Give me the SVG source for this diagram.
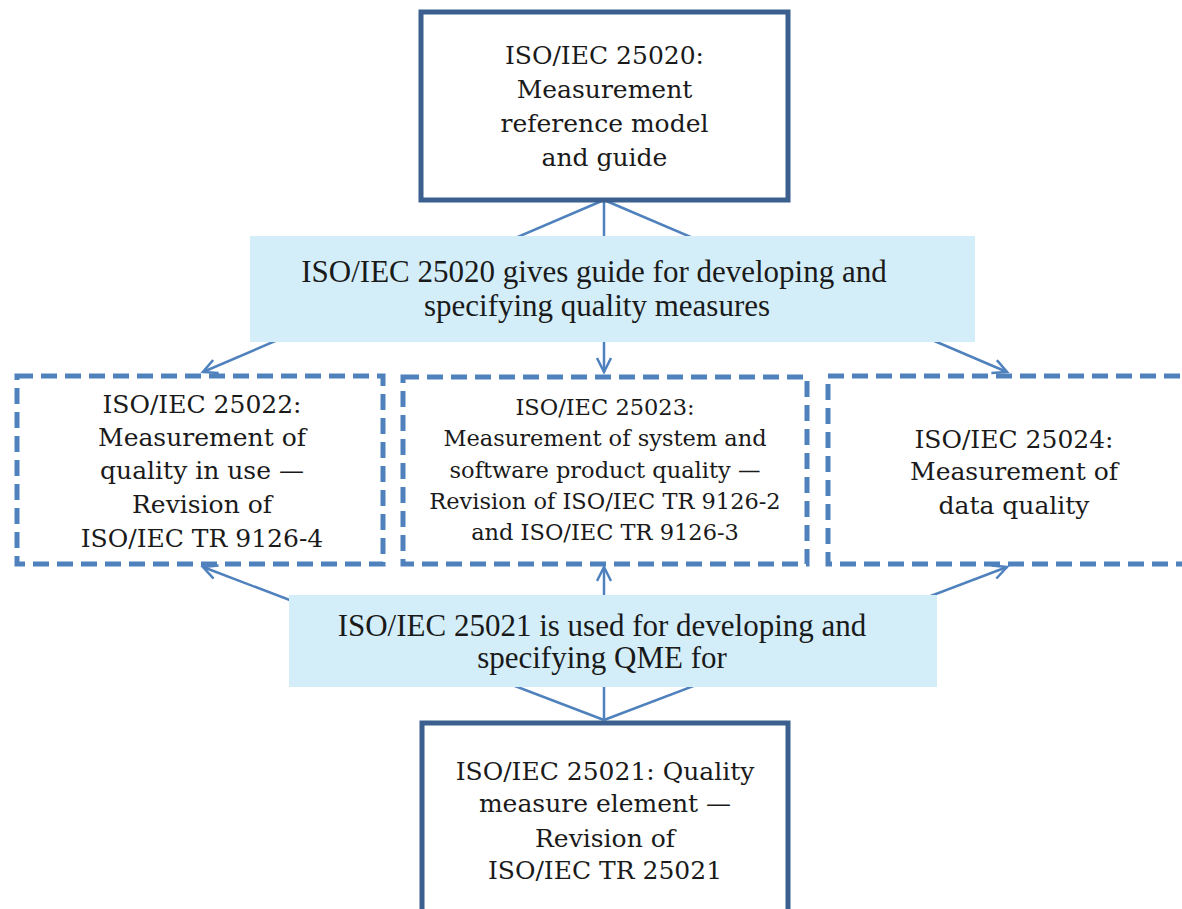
<svg xmlns="http://www.w3.org/2000/svg" width="1182" height="909" viewBox="0 0 1182 909">
<defs>
<marker id="ah" markerWidth="18" markerHeight="18" refX="15" refY="8" orient="auto" markerUnits="userSpaceOnUse">
<path d="M1,1 L15,8 L1,15" fill="none" stroke="#4F81BD" stroke-width="2.5"/>
</marker>
<style>
.solid{fill:#fff;stroke:#3B5F8E;stroke-width:5}
.dash{fill:#fff;stroke:#4F81BD;stroke-width:5;stroke-dasharray:16 8}
.lbl{fill:#D3EEF9}
.conn{stroke:#4F81BD;stroke-width:2.5;fill:none}
.t{font-family:"DejaVu Serif","Liberation Serif",serif;font-size:25px;fill:#1a1a1a;text-anchor:middle}
.ts{font-family:"DejaVu Serif","Liberation Serif",serif;font-size:22.5px;fill:#1a1a1a;text-anchor:middle}
.tl{font-family:"Liberation Serif","DejaVu Serif",serif;font-size:31px;fill:#1a1a1a;text-anchor:middle}
</style>
</defs>
<rect width="1182" height="909" fill="#fff"/>
<g id="connectors">
<line class="conn" x1="604" y1="200" x2="203" y2="372" marker-end="url(#ah)"/>
<line class="conn" x1="604" y1="200" x2="604" y2="372" marker-end="url(#ah)"/>
<line class="conn" x1="604" y1="200" x2="1007" y2="372" marker-end="url(#ah)"/>
<line class="conn" x1="604" y1="720" x2="203" y2="567" marker-end="url(#ah)"/>
<line class="conn" x1="604" y1="720" x2="604" y2="567" marker-end="url(#ah)"/>
<line class="conn" x1="604" y1="720" x2="1007" y2="567" marker-end="url(#ah)"/>
</g>
<g id="n25020">
<rect class="solid" x="421" y="12" width="367" height="188"/>
<text class="t" x="604.5" y="64">ISO/IEC 25020:</text>
<text class="t" x="604.5" y="98">Measurement</text>
<text class="t" x="604.5" y="132">reference model</text>
<text class="t" x="604.5" y="166">and guide</text>
</g>
<g id="label-top">
<rect class="lbl" x="250" y="236" width="725" height="106"/>
<text class="tl" x="594" y="282">ISO/IEC 25020 gives guide for developing and</text>
<text class="tl" x="597" y="316">specifying quality measures</text>
</g>
<g id="n25022">
<rect class="dash" x="17" y="376" width="366" height="188"/>
<text class="t" x="202" y="413">ISO/IEC 25022:</text>
<text class="t" x="202" y="446">Measurement of</text>
<text class="t" x="202" y="479">quality in use —</text>
<text class="t" x="202" y="513">Revision of</text>
<text class="t" x="202" y="547">ISO/IEC TR 9126-4</text>
</g>
<g id="n25023">
<rect class="dash" x="403" y="377" width="404" height="187"/>
<text class="ts" x="605" y="415">ISO/IEC 25023:</text>
<text class="ts" x="605" y="446">Measurement of system and</text>
<text class="ts" x="605" y="478">software product quality —</text>
<text class="ts" x="605" y="509">Revision of ISO/IEC TR 9126-2</text>
<text class="ts" x="605" y="540">and ISO/IEC TR 9126-3</text>
</g>
<g id="n25024">
<rect class="dash" x="828" y="376" width="400" height="188"/>
<text class="t" x="1014" y="448">ISO/IEC 25024:</text>
<text class="t" x="1014" y="480">Measurement of</text>
<text class="t" x="1014" y="514">data quality</text>
</g>
<g id="label-bottom">
<rect class="lbl" x="289" y="595" width="648" height="92"/>
<text class="tl" x="602" y="636">ISO/IEC 25021 is used for developing and</text>
<text class="tl" x="602" y="668">specifying QME for</text>
</g>
<g id="n25021">
<rect class="solid" x="422" y="723" width="366" height="200"/>
<text class="t" x="605" y="780">ISO/IEC 25021: Quality</text>
<text class="t" x="605" y="812">measure element —</text>
<text class="t" x="605" y="847">Revision of</text>
<text class="t" x="605" y="879">ISO/IEC TR 25021</text>
</g>
</svg>
